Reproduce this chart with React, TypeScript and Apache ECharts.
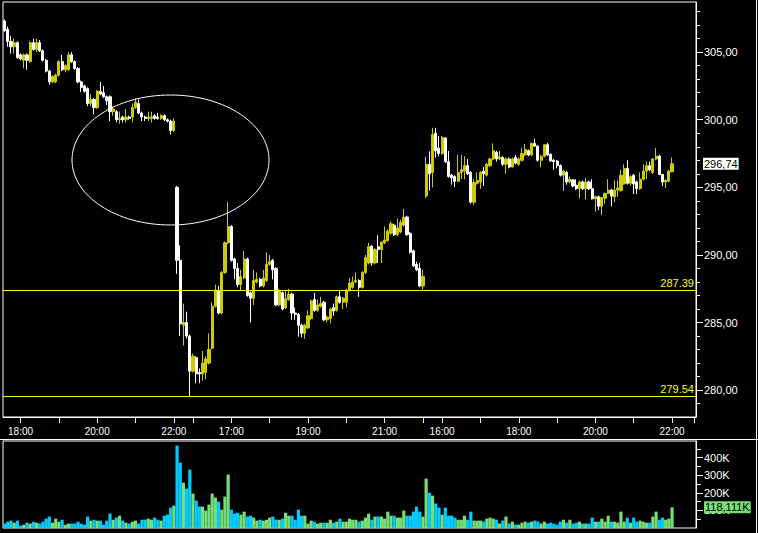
import React, { useEffect, useRef } from 'react';
import * as echarts from 'echarts';

// Candles: [open, close, low, high] — 5-minute bars
const day1Candles: number[][] = [
  [307.3, 306.6, 306.5, 307.4], [306.7, 305.8, 305.4, 306.9], [305.8, 305.4, 304.9, 306.2], [305.4, 305.7, 304.9, 306.0],
  [305.7, 304.6, 304.5, 305.8], [304.8, 304.5, 304.4, 304.9], [304.4, 304.8, 303.8, 304.9], [304.8, 304.4, 303.7, 304.9],
  [304.3, 305.7, 304.2, 305.8], [305.7, 305.2, 305.1, 306.0], [305.2, 305.7, 305.0, 306.0], [305.7, 305.1, 305.0, 305.9],
  [305.1, 304.4, 304.3, 305.2], [304.4, 303.6, 303.5, 304.5], [303.6, 302.8, 302.6, 303.7], [302.8, 303.2, 302.7, 303.3],
  [302.8, 303.3, 302.7, 303.4], [303.3, 304.3, 303.2, 304.4], [304.3, 303.7, 303.6, 304.8], [303.7, 304.0, 303.5, 304.1],
  [303.7, 304.8, 303.6, 305.0], [304.8, 304.3, 304.2, 305.0], [304.3, 303.8, 303.7, 304.4], [303.8, 302.8, 302.7, 303.9],
  [302.8, 302.4, 302.05, 302.9], [302.5, 302.1, 302.0, 302.6], [302.3, 301.2, 301.0, 302.4], [301.2, 301.5, 301.0, 301.9],
  [301.5, 300.9, 300.4, 301.6], [300.9, 302.1, 300.8, 302.2], [302.1, 301.9, 301.8, 302.8], [302.0, 301.7, 301.6, 302.5],
  [301.7, 301.4, 301.1, 301.8], [301.7, 300.6, 299.9, 301.8], [300.6, 300.8, 300.3, 301.0], [300.6, 300.0, 299.8, 300.7],
  [300.0, 300.1, 299.7, 300.6], [300.2, 300.0, 299.8, 300.3], [300.0, 300.2, 299.8, 300.8], [300.2, 300.1, 300.0, 300.3],
  [300.2, 300.9, 299.8, 301.2], [300.9, 301.3, 300.8, 301.6], [301.2, 300.5, 300.4, 301.5], [300.5, 300.2, 299.9, 300.6],
  [300.2, 300.1, 299.9, 300.3], [300.1, 300.2, 299.9, 300.6], [300.1, 300.2, 299.8, 300.6], [300.3, 300.1, 300.0, 300.4],
  [300.2, 300.1, 300.0, 300.5], [300.1, 300.3, 300.0, 300.4], [300.3, 300.0, 299.9, 300.4], [300.0, 299.9, 299.8, 300.1],
  [299.9, 299.2, 298.9, 300.0], [299.2, 299.9, 299.1, 300.1],
];

const day2Candles: number[][] = [
  [295.0, 289.6, 288.6, 295.1], [289.6, 284.9, 284.0, 290.7], [284.8, 285.0, 283.3, 286.4], [285.0, 284.0, 283.8, 285.8],
  [284.0, 281.4, 279.54, 284.1], [281.4, 282.5, 281.3, 282.7], [282.4, 281.2, 280.5, 282.5], [281.3, 281.2, 280.5, 281.6],
  [281.2, 282.0, 280.7, 282.9], [281.3, 282.3, 280.8, 282.5], [282.0, 283.0, 281.9, 284.2], [283.1, 286.2, 283.0, 286.5],
  [286.2, 287.4, 286.1, 287.8], [287.35, 285.7, 285.6, 287.7], [285.7, 288.7, 285.6, 288.8], [288.7, 290.9, 288.6, 291.0],
  [290.9, 292.1, 290.8, 293.9], [292.1, 289.6, 289.5, 292.2], [289.7, 289.0, 288.2, 289.8], [289.0, 287.8, 287.6, 289.4],
  [287.8, 288.4, 287.4, 288.9], [288.3, 289.7, 288.2, 290.3], [289.7, 287.0, 286.9, 289.8], [287.2, 286.8, 285.0, 287.3],
  [286.8, 288.1, 286.3, 288.9], [288.0, 288.2, 287.9, 288.7], [288.2, 287.7, 287.6, 288.3], [287.7, 288.3, 287.6, 288.9],
  [288.1, 289.3, 288.0, 290.2], [289.3, 289.5, 289.2, 290.0], [289.6, 288.9, 288.2, 289.7], [289.0, 286.3, 286.2, 289.1],
  [286.3, 287.35, 286.2, 287.5], [287.2, 286.0, 285.9, 287.3], [286.1, 286.75, 286.0, 287.4], [286.7, 287.1, 286.6, 287.5],
  [287.1, 285.7, 285.2, 287.2], [285.7, 285.6, 285.2, 286.1], [285.6, 284.8, 283.95, 285.7], [284.8, 284.2, 283.9, 284.9],
  [284.2, 284.8, 283.8, 284.9], [284.6, 285.5, 284.5, 285.9], [285.3, 286.6, 285.2, 286.7], [286.7, 285.9, 285.8, 287.2],
  [285.9, 286.3, 285.8, 286.7], [286.2, 286.4, 286.1, 286.9], [286.5, 285.2, 285.1, 286.6], [285.2, 285.4, 285.0, 285.5],
  [285.3, 286.0, 284.95, 286.1], [286.1, 285.85, 285.5, 286.4], [285.9, 286.9, 285.8, 287.0], [286.9, 286.5, 286.4, 287.4],
  [286.5, 286.8, 286.0, 286.9], [286.5, 287.4, 286.1, 287.5], [287.4, 287.9, 287.3, 288.3], [287.6, 288.0, 287.5, 288.4],
  [288.0, 288.1, 287.9, 288.7], [288.1, 287.6, 286.9, 288.2], [287.6, 288.7, 287.5, 288.8], [288.7, 289.8, 288.6, 290.0],
  [289.4, 290.6, 289.3, 290.9], [290.65, 289.4, 289.2, 290.7], [289.4, 290.4, 289.3, 290.5], [290.6, 290.4, 289.4, 291.45],
  [290.4, 290.95, 289.4, 291.0], [290.9, 291.1, 290.8, 292.1], [291.05, 291.75, 291.0, 291.9], [291.6, 292.3, 291.5, 292.5],
  [292.2, 291.5, 291.4, 292.3], [291.5, 292.0, 291.4, 292.7], [291.7, 292.4, 291.6, 292.6], [292.2, 292.8, 292.1, 293.4],
  [292.8, 291.5, 291.4, 292.9], [291.6, 290.2, 290.1, 291.7], [290.3, 289.2, 289.1, 290.4], [289.3, 288.9, 288.8, 289.5],
  [289.0, 287.7, 287.6, 289.4], [287.7, 288.4, 287.4, 288.9],
];

const day3Candles: number[][] = [
  [294.36, 296.7, 294.2, 297.26], [296.7, 296.0, 294.75, 297.66], [296.1, 298.9, 295.0, 299.4], [299.0, 297.7, 297.2, 299.4],
  [297.9, 297.5, 297.3, 298.8], [297.5, 298.7, 297.4, 298.8], [298.65, 296.9, 296.8, 298.7], [296.9, 295.8, 295.7, 297.7],
  [295.9, 295.7, 295.2, 296.0], [295.8, 295.45, 295.04, 295.9], [295.45, 296.1, 295.4, 297.4], [296.1, 296.3, 295.6, 297.4],
  [296.2, 296.6, 295.6, 297.3], [296.6, 296.0, 295.9, 297.1], [296.1, 293.9, 293.8, 296.2], [293.9, 295.35, 293.7, 295.6],
  [295.3, 295.5, 295.2, 296.1], [295.4, 296.1, 294.9, 296.2], [296.2, 296.0, 295.1, 296.5], [295.9, 296.7, 295.8, 296.8],
  [296.6, 297.1, 296.5, 297.2], [297.1, 297.7, 297.0, 298.25], [297.6, 297.1, 296.9, 297.7], [297.1, 297.25, 297.0, 297.7],
  [297.2, 296.7, 296.6, 297.3], [296.7, 297.1, 296.0, 297.2], [297.1, 296.5, 296.4, 297.2], [296.5, 297.1, 296.5, 297.2],
  [297.2, 296.8, 296.7, 297.4], [296.7, 297.1, 296.6, 297.2], [297.0, 297.5, 296.9, 297.9], [297.4, 297.8, 297.3, 298.2],
  [297.7, 297.4, 297.3, 297.8], [297.4, 298.25, 297.3, 298.3], [298.25, 298.05, 298.0, 298.6], [298.05, 297.0, 296.9, 298.1],
  [297.0, 297.3, 296.5, 297.4], [297.3, 298.15, 297.2, 298.2], [298.15, 297.4, 297.3, 298.3], [297.45, 296.95, 296.9, 297.5],
  [297.0, 296.9, 296.3, 297.1], [296.95, 296.6, 296.4, 297.0], [296.6, 295.9, 295.8, 296.7], [295.9, 296.2, 294.75, 296.3],
  [296.1, 295.4, 295.2, 296.2], [295.4, 295.6, 295.3, 295.8], [295.55, 295.1, 295.0, 295.6], [295.15, 294.9, 294.8, 295.6],
  [294.9, 295.4, 294.2, 295.5], [295.4, 294.9, 294.8, 295.5], [294.9, 295.4, 294.1, 295.7], [295.4, 294.9, 294.8, 295.5],
  [294.9, 294.15, 294.1, 295.6], [294.15, 294.3, 293.2, 294.4], [294.3, 293.6, 293.3, 294.4], [293.6, 294.25, 292.97, 294.3],
  [294.2, 294.55, 293.8, 294.6], [294.55, 294.8, 294.5, 295.6], [294.8, 294.35, 293.6, 294.9], [294.3, 294.8, 293.9, 295.5],
  [294.8, 294.95, 294.3, 295.5], [294.75, 295.9, 294.7, 296.3], [295.25, 296.4, 295.2, 296.7], [296.4, 295.3, 295.2, 297.0],
  [295.3, 295.8, 295.1, 295.9], [295.9, 295.25, 294.5, 296.0], [295.4, 294.9, 294.5, 295.5], [294.9, 295.6, 294.8, 296.1],
  [295.6, 296.2, 295.5, 296.7], [296.2, 296.6, 295.6, 296.9], [296.6, 296.3, 296.2, 296.9], [296.1, 297.1, 296.0, 297.15],
  [297.1, 297.3, 297.0, 297.9], [297.3, 295.95, 295.9, 297.4], [295.95, 295.4, 295.1, 296.0], [295.4, 295.5, 294.95, 295.6],
  [295.45, 296.2, 295.4, 296.3], [296.15, 296.74, 296.1, 297.2],
];

// Volume in thousands
const day1Volume = [25, 36, 42, 30, 42, 13, 19, 30, 25, 36, 30, 25, 36, 53, 65, 30, 53, 36, 47, 19, 25, 25, 25, 36, 25, 19, 65, 42, 47, 42, 42, 19, 42, 82, 47, 59, 70, 42, 30, 25, 36, 42, 25, 47, 47, 53, 47, 59, 47, 42, 70, 76, 116, 127];
const day2Volume = [469, 372, 258, 224, 332, 196, 156, 122, 122, 99, 133, 196, 173, 150, 104, 179, 304, 104, 82, 87, 76, 93, 65, 70, 59, 42, 47, 42, 47, 59, 65, 47, 47, 53, 87, 70, 70, 47, 104, 70, 70, 25, 42, 36, 25, 30, 30, 30, 47, 30, 36, 53, 36, 36, 53, 47, 47, 36, 42, 59, 82, 47, 65, 65, 65, 53, 93, 70, 70, 59, 59, 99, 70, 70, 93, 122, 93, 65];
const day3Volume = [281, 201, 184, 139, 116, 76, 116, 70, 70, 59, 47, 47, 70, 47, 93, 42, 42, 42, 36, 53, 59, 53, 47, 25, 42, 65, 25, 36, 19, 19, 30, 36, 30, 36, 42, 36, 25, 36, 25, 30, 25, 19, 36, 47, 30, 47, 25, 30, 36, 25, 25, 25, 59, 36, 36, 53, 36, 70, 36, 36, 30, 93, 36, 59, 30, 59, 36, 42, 36, 30, 30, 65, 93, 47, 59, 47, 53, 118.111];

const dayStartTimes = ['17:35', '15:35', '15:35'];
const trailingSlots = 7;
const labelledTimes = ['0|18:00', '0|20:00', '0|22:00', '1|17:00', '1|19:00', '1|21:00', '2|16:00', '2|18:00', '2|20:00', '2|22:00'];

const priceTicks = [280, 285, 290, 295, 300, 305];
const priceMinorTicks = [279, 280, 281, 282, 283, 284, 285, 286, 287, 288, 289, 290, 291, 292, 293, 294, 295, 296, 297, 298, 299, 300, 301, 302, 303, 304, 305, 306, 307, 308];
const volumeTicks = [100000, 200000, 300000, 400000];
const volumeMinorTicks = [50000, 150000, 250000, 350000, 450000];
const refLevels = [287.39, 279.54];
const lastPrice = 296.74;
const lastVolume = 118111;

const UP = '#cccc00';
const DOWN = '#ffffff';
const VOL_UP = '#77dd77';
const VOL_DOWN = '#00ccff';
const FONT = '"Liberation Sans", Arial, sans-serif';

export default function App() {
  const ref = useRef<HTMLDivElement>(null);

  useEffect(() => {
    if (!ref.current) return;
    const chart = echarts.init(ref.current, null, { renderer: 'svg' });

    const days = [day1Candles, day2Candles, day3Candles];
    const categories: string[] = [];
    days.forEach((d, di) => {
      let [h, m] = dayStartTimes[di].split(':').map(Number);
      for (let k = 0; k < d.length; k++) {
        categories.push(`${di}|${String(h).padStart(2, '0')}:${String(m).padStart(2, '0')}`);
        m += 5;
        if (m >= 60) { m -= 60; h += 1; }
      }
    });
    for (let k = 0; k < trailingSlots; k++) categories.push(`x|${k}`);

    const tickIdx = new Set<number>();
    categories.forEach((c, i) => { if (c.endsWith(':00')) tickIdx.add(i); });
    tickIdx.add(categories.length - 1);
    const labelIdx = new Set<number>();
    categories.forEach((c, i) => { if (labelledTimes.includes(c)) labelIdx.add(i); });

    const candles = [...day1Candles, ...day2Candles, ...day3Candles];
    const volumes = [...day1Volume, ...day2Volume, ...day3Volume];
    const volData = volumes.map((v, i) => ({
      value: v * 1000,
      itemStyle: { color: candles[i][1] >= candles[i][0] ? VOL_UP : VOL_DOWN },
    }));

    const fmtPrice = (v: number) => v.toFixed(2).replace('.', ',');

    chart.setOption({
      animation: false,
      backgroundColor: '#000',
      textStyle: { fontFamily: FONT },
      grid: [
        { left: 3, top: 2, width: 693, height: 415, show: true, borderColor: '#fff', borderWidth: 1, backgroundColor: 'transparent', outerBoundsMode: 'none' },
        { left: 3, top: 441, width: 693, height: 87, show: true, borderColor: '#fff', borderWidth: 1, backgroundColor: 'transparent', outerBoundsMode: 'none' },
      ],
      xAxis: [
        {
          type: 'category', gridIndex: 0, data: categories, boundaryGap: true,
          axisLine: { show: true, lineStyle: { color: '#fff', width: 1 } },
          axisTick: { show: true, alignWithLabel: true, interval: (i: number) => tickIdx.has(i), length: 6, lineStyle: { color: '#fff' } },
          axisLabel: {
            show: true, interval: (i: number) => labelIdx.has(i), color: '#fff', fontSize: 10, margin: 9,
            fontFamily: FONT, formatter: (v: string) => v.split('|')[1],
          },
          splitLine: { show: false },
        },
        {
          type: 'category', gridIndex: 1, data: categories, boundaryGap: true,
          axisLine: { show: false }, axisTick: { show: false }, axisLabel: { show: false }, splitLine: { show: false },
        },
      ],
      yAxis: [
        {
          type: 'value', gridIndex: 0, position: 'right', min: 278.01, max: 308.71, scale: true,
          axisLine: { show: true, lineStyle: { color: '#fff' } },
          axisTick: { show: true, customValues: priceTicks, length: 7, lineStyle: { color: '#fff' } },
          axisLabel: { show: true, customValues: priceTicks, formatter: fmtPrice, color: '#fff', fontSize: 11, margin: 8, fontFamily: FONT },
          splitLine: { show: false },
        },
        {
          type: 'value', gridIndex: 0, position: 'right', min: 278.01, max: 308.71, scale: true,
          axisLine: { show: false },
          axisTick: { show: true, customValues: priceMinorTicks, length: 4, lineStyle: { color: '#fff' } },
          axisLabel: { show: false },
          splitLine: { show: false },
        },
        {
          type: 'value', gridIndex: 1, position: 'right', min: 0, max: 495000,
          axisLine: { show: true, lineStyle: { color: '#fff' } },
          axisTick: { show: true, customValues: volumeTicks, length: 7, lineStyle: { color: '#fff' } },
          axisLabel: { show: true, customValues: volumeTicks, formatter: (v: number) => `${v / 1000}K`, color: '#fff', fontSize: 11, margin: 8, fontFamily: FONT },
          splitLine: { show: false },
        },
        {
          type: 'value', gridIndex: 1, position: 'right', min: 0, max: 495000,
          axisLine: { show: false },
          axisTick: { show: true, customValues: volumeMinorTicks, length: 5, lineStyle: { color: '#fff' } },
          axisLabel: { show: false },
          splitLine: { show: false },
        },
      ],
      series: [
        {
          type: 'candlestick', xAxisIndex: 0, yAxisIndex: 0, data: candles, barWidth: 2.6, clip: false,
          itemStyle: { color: UP, color0: DOWN, borderColor: UP, borderColor0: DOWN, borderWidth: 1 },
          markLine: {
            silent: true, symbol: ['none', 'none'], animation: false,
            data: [
              ...refLevels.map((lv) => ({
                yAxis: lv,
                lineStyle: { color: '#ffff00', width: 1, type: 'solid' },
                label: { show: true, position: 'insideEndTop', formatter: lv.toFixed(2), color: '#ffff00', fontSize: 11, distance: 2, fontFamily: FONT },
              })),
              {
                yAxis: lastPrice,
                lineStyle: { color: 'rgba(0,0,0,0)', width: 0 },
                label: { show: true, position: 'end', formatter: fmtPrice(lastPrice), color: '#000', backgroundColor: '#fff', padding: [1, 1, 0, 1], fontSize: 11, distance: 7, fontFamily: FONT, opacity: 1 },
              },
            ],
          },
        },
        {
          type: 'bar', xAxisIndex: 1, yAxisIndex: 2, data: volData, barCategoryGap: '0%', clip: false,
          markLine: {
            silent: true, symbol: ['none', 'none'], animation: false,
            data: [{
              yAxis: lastVolume,
              lineStyle: { color: 'rgba(0,0,0,0)', width: 0 },
              label: {
                show: true, position: 'end', formatter: (lastVolume / 1000).toFixed(3).replace('.', ',') + 'K',
                color: '#000', backgroundColor: VOL_UP, padding: [1, 1, 0, 1], fontSize: 11, distance: 8, fontFamily: FONT, opacity: 1,
              },
            }],
          },
        },
      ],
      graphic: [
        { type: 'ellipse', silent: true, z: 100, shape: { cx: 170.5, cy: 160, rx: 98.5, ry: 65 }, style: { fill: 'none', stroke: '#fff', lineWidth: 1 } },
        { type: 'line', silent: true, shape: { x1: 0, y1: 439.5, x2: 758, y2: 439.5 }, style: { stroke: '#fff', lineWidth: 1 } },
        { type: 'line', silent: true, shape: { x1: 756.5, y1: 0, x2: 756.5, y2: 533 }, style: { stroke: '#fff', lineWidth: 1 } },
      ],
    });

    return () => chart.dispose();
  }, []);

  return <div ref={ref} style={{ position: 'fixed', left: 0, top: 0, width: 758, height: 533, background: '#000' }} />;
}
